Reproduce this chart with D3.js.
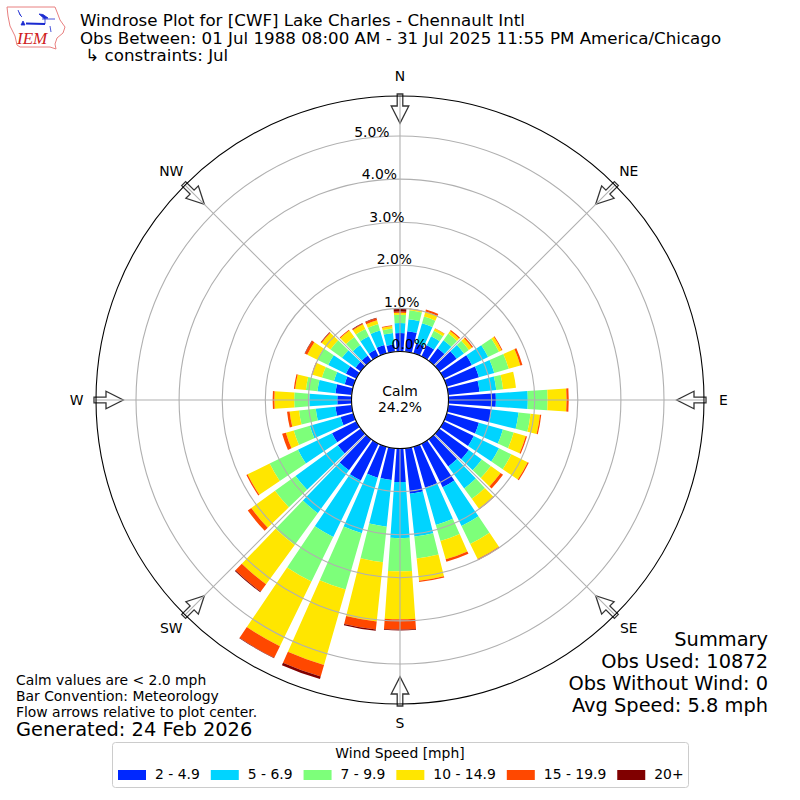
<!DOCTYPE html>
<html>
<head>
<meta charset="utf-8">
<script src="https://d3js.org/d3.v7.min.js"></script>
<style>
body { margin: 0; background: #fff; }
text { font-family: "DejaVu Sans", sans-serif; fill: #000; }
</style>
</head>
<body>
<div class="chart"></div>
<script>
// direction of each bar, degrees clockwise from north
const directions = d3.range(0, 360, 10)

// percent of observations per direction, one list per speed bin
const speed2to5 = [.43,.48,.24,.29,.36,.50,.73,.78,.73,1.10,1.01,.78,.78,.85,.78,1.13,.99,1.06,.78,.74,.75,.95,.89,.66,.63,.31,.38,.33,.38,.21,.27,.15,.15,.17,.20,.17]
const speed5to7 = [.23,.28,.49,.23,.23,.21,.42,.37,.39,.74,.63,.58,.65,.37,.63,1.00,.90,1.00,1.30,1.09,1.34,1.46,1.23,1.21,.88,.74,.46,.65,.42,.26,.46,.39,.30,.35,.35,.27]
const speed7to10 = [.19,.21,.16,.14,.19,.14,.28,.35,.16,.46,.28,.26,.32,.26,.30,.46,.39,.51,.77,.83,1.36,1.15,.91,.59,.73,.39,.39,.35,.27,.29,.28,.33,.23,.19,.16,.10]
const speed10to15 = [.05,.03,.12,.06,.07,.09,.07,.28,.30,.44,.22,.29,.42,.28,.28,.39,.44,.52,1.11,1.38,1.82,1.67,1.13,.68,.57,.19,.22,.46,.25,.23,.26,.25,.19,.12,.09,.06]
const speed15to20 = [.03,.01,.05,.01,.03,.03,.02,.05,0,.05,.03,.03,.03,.07,.02,.03,.06,.03,.24,.19,.28,.30,.21,.10,.03,.09,.06,.04,.03,.02,.06,.02,.02,.02,.05,.02]
const speed20up = [.06,0,0,0,0,0,0,0,0,0,0,0,0,0,0,0,0,0,.02,.03,.06,.01,.02,0,0,0,0,0,0,0,.01,.01,0,.01,.01,0]

const speedBins = ['2 - 4.9', '5 - 6.9', '7 - 9.9', '10 - 14.9', '15 - 19.9', '20+']
const speedColors = ['#0028ff', '#00d4ff', '#7dff7a', '#ffe600', '#ff4800', '#800000']
const speedSeries = [speed2to5, speed5to7, speed7to10, speed10to15, speed15to20, speed20up]

const ringValues = [0, 1, 2, 3, 4, 5]
const compassNames = ['N', 'NE', 'E', 'SE', 'S', 'SW', 'W', 'NW']
const compassAngles = [0, 45, 90, 135, 180, 225, 270, 315]

const titleLines = [
    'Windrose Plot for [CWF] Lake Charles - Chennault Intl',
    'Obs Between: 01 Jul 1988 08:00 AM - 31 Jul 2025 11:55 PM America/Chicago',
    ' \u21b3 constraints: Jul'
]
const noteLines = ['Calm values are < 2.0 mph', 'Bar Convention: Meteorology', 'Flow arrows relative to plot center.']
const summaryLines = ['Summary', 'Obs Used: 10872', 'Obs Without Wind: 0', 'Avg Speed: 5.8 mph']

const size = 800
const cx = 400, cy = 400
const outerRadius = 304
const rad = d => d * Math.PI / 180

const svg = d3.select('.chart').append('svg')
    .attr('width', size)
    .attr('height', size)
    .style('display', 'block')

// CREATE SCALES
const rScale = d3.scaleLinear().domain([0, 5]).range([48.5, 264])

// stack the speed bins per direction
const rows = directions.map((d, i) => {
    const row = {dir: d}
    speedBins.forEach((b, j) => { row[b] = speedSeries[j][i] })
    return row
})
const stacked = d3.stack().keys(speedBins)(rows)

const plot = svg.append('g').attr('transform', `translate(${cx},${cy})`)

// BARS
const arc = d3.arc()
    .innerRadius(d => rScale(d[0]))
    .outerRadius(d => rScale(d[1]))
    .startAngle(d => rad(d.data.dir - 4))
    .endAngle(d => rad(d.data.dir + 4))

plot.append('g')
    .selectAll('g')
    .data(stacked)
    .join('g')
    .attr('fill', (d, i) => speedColors[i])
    .selectAll('path')
    .data(d => d)
    .join('path')
    .attr('d', arc)

// FLOW ARROWS, pointing at the plot center
const arrowLine = d3.line()
const arrowShape = [[-2.8, -306], [2.8, -306], [2.8, -294], [8.8, -294], [0, -276.7], [-8.8, -294], [-2.8, -294]]
plot.append('g')
    .selectAll('path')
    .data(compassAngles)
    .join('path')
    .attr('d', arrowLine(arrowShape) + 'Z')
    .attr('transform', d => `rotate(${d})`)
    .attr('fill', '#fff')
    .attr('stroke', '#333')
    .attr('stroke-width', 1.3)

// GRID
plot.append('g')
    .selectAll('circle')
    .data(ringValues)
    .join('circle')
    .attr('r', d => rScale(d))
    .attr('fill', 'none')
    .attr('stroke', '#b0b0b0')
    .attr('stroke-width', 1.1)

plot.append('g')
    .selectAll('line')
    .data(compassAngles)
    .join('line')
    .attr('x1', d => rScale(0) * Math.sin(rad(d)))
    .attr('y1', d => -rScale(0) * Math.cos(rad(d)))
    .attr('x2', d => outerRadius * Math.sin(rad(d)))
    .attr('y2', d => -outerRadius * Math.cos(rad(d)))
    .attr('stroke', '#b0b0b0')
    .attr('stroke-width', 1.1)

plot.append('circle')
    .attr('r', outerRadius)
    .attr('fill', 'none')
    .attr('stroke', '#000')
    .attr('stroke-width', 1.1)

// calm circle
plot.append('circle')
    .attr('r', rScale(0))
    .attr('fill', '#fff')
    .attr('stroke', '#000')
    .attr('stroke-width', 1.1)

// LABELS
plot.append('g')
    .selectAll('text')
    .data(compassNames)
    .join('text')
    .attr('x', (d, i) => 323.5 * Math.sin(rad(compassAngles[i])))
    .attr('y', (d, i) => -323.5 * Math.cos(rad(compassAngles[i])) + 4.7)
    .attr('text-anchor', 'middle')
    .attr('font-size', 13.9)
    .text(d => d)

plot.append('g')
    .selectAll('text')
    .data(ringValues)
    .join('text')
    .attr('x', d => -rScale(d) * Math.sin(rad(10)))
    .attr('y', d => -rScale(d) * Math.cos(rad(10)) - 3)
    .attr('font-size', 13.9)
    .text(d => d3.format('.1f')(d) + '%')

plot.append('text')
    .attr('y', -4)
    .attr('text-anchor', 'middle')
    .attr('font-size', 13.9)
    .text('Calm')
plot.append('text')
    .attr('y', 12)
    .attr('text-anchor', 'middle')
    .attr('font-size', 13.9)
    .text('24.2%')

// TITLE
svg.append('g')
    .selectAll('text')
    .data(titleLines)
    .join('text')
    .attr('x', 80)
    .attr('y', (d, i) => 26 + i * 17.6)
    .attr('font-size', 16.68)
    .attr('xml:space', 'preserve')
    .style('white-space', 'pre')
    .text(d => d)

// NOTES
svg.append('g')
    .selectAll('text')
    .data(noteLines)
    .join('text')
    .attr('x', 16)
    .attr('y', (d, i) => 685 + i * 16)
    .attr('font-size', 13.9)
    .text(d => d)

svg.append('text')
    .attr('x', 16)
    .attr('y', 736)
    .attr('font-size', 19.4)
    .text('Generated: 24 Feb 2026')

svg.append('g')
    .selectAll('text')
    .data(summaryLines)
    .join('text')
    .attr('x', 768)
    .attr('y', (d, i) => 646 + i * 22)
    .attr('text-anchor', 'end')
    .attr('font-size', 19.4)
    .text(d => d)

// LEGEND
const legend = svg.append('g')
legend.append('rect')
    .attr('x', 112.5)
    .attr('y', 742.5)
    .attr('width', 576)
    .attr('height', 45)
    .attr('rx', 3)
    .attr('fill', '#fff')
    .attr('stroke', '#ccc')
legend.append('text')
    .attr('x', 400)
    .attr('y', 758)
    .attr('text-anchor', 'middle')
    .attr('font-size', 13.9)
    .text('Wind Speed [mph]')

let legendX = 118
speedBins.forEach((b, i) => {
    legend.append('rect')
        .attr('x', legendX)
        .attr('y', 770)
        .attr('width', 28)
        .attr('height', 10)
        .attr('fill', speedColors[i])
    const label = legend.append('text')
        .attr('x', legendX + 37)
        .attr('y', 779)
        .attr('font-size', 13.9)
        .text(b)
    legendX += 37 + label.node().getComputedTextLength() + 11
})

// LOGO
const logo = svg.append('g')
logo.append('path')
    .attr('d', 'M7,7 L55,7 L57,12 L60,20 L65,27 L63,33 L57,38 L55,44 L56,49 L50,47 L20,47 L17,45 L15,36 L10,26 L8,16 Z')
    .attr('fill', 'none')
    .attr('stroke', '#e88080')
    .attr('stroke-width', 1)
logo.append('path')
    .attr('d', 'M26,23.5 L45,24')
    .attr('stroke', '#1a2ad0')
    .attr('stroke-width', 2)
logo.append('path')
    .attr('d', 'M39,14 L43,14.5 L48,18 L44,18.5 Z M18,10 L20,15 L22,17 M42,19 L55,19 M45,19 L45,24 M50,26 L51,32 M23,21 L21,25 L25,25 Z')
    .attr('fill', '#1a2ad0')
    .attr('stroke', '#1a2ad0')
    .attr('stroke-width', 0.8)
logo.append('text')
    .attr('x', 17)
    .attr('y', 43.5)
    .attr('font-size', 17)
    .style('font-family', '"Liberation Serif", serif')
    .style('font-style', 'italic')
    .style('fill', '#d02020')
    .text('IEM')
</script>
</body>
</html>
